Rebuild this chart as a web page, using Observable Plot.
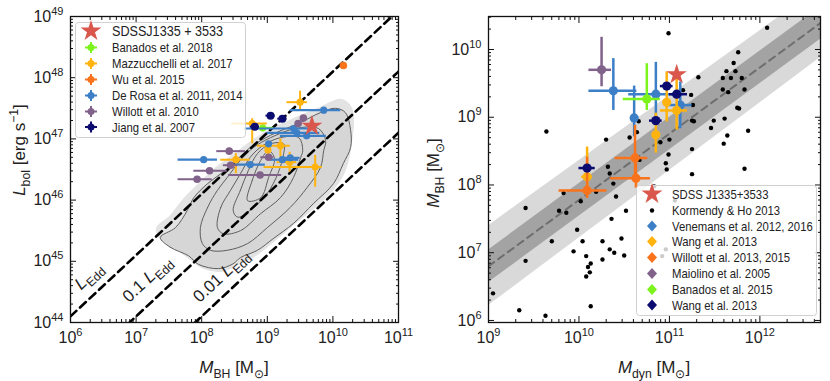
<!DOCTYPE html>
<html><head><meta charset="utf-8">
<script src="https://cdn.jsdelivr.net/npm/d3@7"></script>
<script src="https://cdn.jsdelivr.net/npm/@observablehq/plot@0.6"></script>
<style>
body{margin:0;background:#fff;}
#wrap{position:relative;width:830px;height:381px;overflow:hidden;background:#fff;}
#wrap svg{position:absolute;top:0;}
</style></head><body><div id="wrap"></div>
<script>
const FONT = "'Liberation Sans',Arial,sans-serif";

// ---------- tick decades ----------
const leftXDecades = [6, 7, 8, 9, 10, 11];
const leftYDecades = [44, 45, 46, 47, 48, 49];
const rightXDecades = [9, 10, 11, 12];
const rightYDecades = [6, 7, 8, 9, 10];

// ---------- LEFT PANEL (log10 values) ----------
// rows: [logM, logL, logM_lo, logM_hi, logL_lo, logL_hi]
const sdssLeft = [[9.68, 47.21]];
const banados2018 = [[8.93, 47.18, 8.82, 9.10, null, null]];
const mazzucchelli2017 = [
  [9.50, 47.60, 9.30, 9.61, 47.45, 47.78],
  [8.77, 47.25, 8.46, 9.00, 46.92, 47.33],
  [9.20, 46.89, 8.85, 9.35, 46.70, 47.00],
  [9.01, 46.82, null, null, 46.72, 46.95],
  [8.52, 46.66, 8.29, 8.74, 46.43, 46.76],
  [9.34, 46.62, 9.15, 9.45, 46.46, 46.78],
  [9.73, 46.54, 8.95, 9.84, 46.21, 46.73]
];
const wu2015 = [[10.16, 48.20, null, null, null, null]];
const deRosa = [
  [9.86, 47.47, 9.35, 10.12, null, null],
  [9.40, 47.17, 8.65, 9.75, null, null],
  [9.45, 47.10, 9.00, 9.80, null, null],
  [9.60, 47.05, 9.20, 9.90, null, null],
  [9.02, 46.92, null, null, null, null],
  [8.03, 46.66, 7.64, 8.24, null, null],
  [8.74, 46.58, 8.41, 8.97, null, null],
  [9.23, 46.66, 9.05, 9.48, null, null],
  [9.35, 46.69, 9.20, 9.50, null, null]
];
const willott2010 = [
  [9.55, 47.34, null, null, null, null],
  [9.47, 47.25, null, null, null, null],
  [8.42, 46.80, 8.23, 8.67, null, null],
  [9.02, 46.70, 8.90, 9.10, null, null],
  [8.44, 46.57, 8.33, 8.55, null, null],
  [8.12, 46.48, 7.88, 8.39, null, null],
  [8.89, 46.41, 8.41, 9.22, null, null],
  [7.93, 46.34, 7.64, 8.16, null, null]
];
const jiang2007 = [
  [9.05, 47.38, 8.98, 9.12, null, null],
  [9.23, 47.33, 9.16, 9.30, null, null],
  [8.81, 47.20, 8.74, 8.88, null, null]
];
// SDSS quasar cloud outline and density contours [logM, logL]
const sdssCloud = [[7.33,45.55],[7.52,45.72],[7.72,45.99],[7.98,46.27],[8.24,46.53],[8.59,46.81],[8.79,46.97],[9.05,47.14],[9.43,47.33],[9.81,47.50],[10.12,47.63],[10.27,47.50],[10.30,47.27],[10.27,46.97],[10.22,46.65],[10.12,46.37],[9.86,46.03],[9.40,45.62],[9.09,45.34],[8.79,45.09],[8.55,44.96],[8.29,44.85],[8.03,44.90],[7.78,45.09],[7.52,45.29],[7.37,45.39]];
const contour1 = [[7.37,45.39],[7.52,45.23],[7.80,45.09],[7.95,44.95],[8.26,44.88],[8.48,44.96],[8.59,45.06],[8.85,45.18],[9.09,45.37],[9.40,45.62],[9.70,45.94],[10.01,46.27],[10.16,46.60],[10.27,46.86],[10.27,47.14],[10.19,47.43],[10.04,47.50],[9.81,47.43],[9.51,47.27],[9.05,47.06],[8.74,46.86],[8.48,46.60],[8.29,46.43],[8.09,46.27],[7.88,46.04],[7.78,45.83],[7.60,45.55]];
const contour2 = [[7.98,45.55],[8.09,45.88],[8.24,46.16],[8.39,46.37],[8.59,46.65],[8.79,46.86],[9.05,47.02],[9.43,47.17],[9.78,47.17],[9.89,46.97],[9.86,46.81],[9.81,46.53],[9.61,46.21],[9.35,45.88],[9.00,45.55],[8.70,45.29],[8.39,45.18],[8.13,45.18],[8.01,45.29]];
const contour3 = [[8.24,45.55],[8.29,45.88],[8.44,46.16],[8.59,46.43],[8.74,46.70],[8.93,46.89],[9.20,47.02],[9.48,47.02],[9.54,46.81],[9.51,46.70],[9.40,46.37],[9.20,46.04],[8.90,45.78],[8.59,45.50],[8.33,45.45]];
const contour4 = [[8.48,45.83],[8.59,46.16],[8.71,46.48],[8.85,46.76],[9.05,46.92],[9.25,46.92],[9.25,46.76],[9.16,46.43],[9.00,46.11],[8.79,45.88],[8.55,45.72]];
const contour5 = [[8.70,45.99],[8.77,46.32],[8.90,46.65],[9.02,46.81],[9.11,46.68],[9.02,46.37],[8.90,46.04]];
// Eddington-ratio lines: endpoints [logM, logL]
const eddLines = [
  {name: "1", pts: [[6, 44.1], [11, 49.1]]},
  {name: "0.1", pts: [[6, 43.1], [11, 48.1]]},
  {name: "0.01", pts: [[6, 42.1], [11, 47.1]]}
];
const eddLabels = [
  {pre: "", at: [6.34, 44.69]},
  {pre: "0.1 ", at: [7.23, 44.64]},
  {pre: "0.01 ", at: [8.36, 44.69]}
];

// ---------- RIGHT PANEL (log10 values) ----------
// rows: [logMdyn, logMBH, x_lo, x_hi, y_lo, y_hi]
const sdssRight = [[11.08, 9.63]];
const kormendyHo = [[12.08,10.32],[10.99,10.24],[11.76,9.96],[11.71,9.80],[11.63,9.68],[11.73,9.68],[11.32,9.59],[11.59,9.58],[11.68,9.58],[11.80,9.58],[11.59,9.41],[11.65,9.37],[11.83,9.41],[11.15,9.40],[11.24,9.33],[11.26,9.18],[11.75,9.14],[11.77,9.13],[11.25,8.95],[11.27,8.94],[11.49,8.95],[11.61,8.98],[11.46,8.84],[11.87,8.80],[11.64,8.73],[11.60,8.61],[9.64,8.79],[10.30,8.67],[10.56,8.70],[10.64,8.78],[10.66,8.94],[10.90,8.63],[11.00,8.67],[11.25,8.53],[10.99,8.45],[10.96,8.32],[10.97,8.23],[11.25,8.16],[11.83,8.24],[10.32,8.27],[10.34,8.17],[10.67,8.37],[10.38,8.02],[10.41,7.83],[9.83,7.88],[10.19,7.90],[10.02,7.76],[9.41,7.66],[9.78,7.62],[9.86,7.59],[10.36,7.50],[10.52,7.62],[9.98,7.34],[9.70,7.17],[10.04,7.17],[10.26,7.17],[10.47,7.21],[9.94,7.02],[10.34,7.05],[10.39,7.00],[9.41,6.88],[10.08,6.95],[10.26,6.90],[10.50,6.96],[10.13,6.84],[10.10,6.79],[10.12,6.71],[10.08,6.65],[9.05,6.40],[9.34,6.15],[9.63,6.07],[10.13,6.21],[10.83,7.98],[11.06,7.77],[10.96,7.05],[10.92,6.95]];
const venemans = [
  [10.38, 9.39, 10.11, 10.64, 9.10, 9.865],
  [10.85, 9.34, 10.55, 11.15, 8.98, 9.81],
  [10.61, 8.99, null, null, 8.71, 9.46],
  [11.12, 9.18, 10.96, 11.25, 8.83, 9.52]
];
const wang2013a = [
  [10.97, 9.22, null, null, 8.93, 9.67],
  [11.08, 9.10, 10.90, 11.20, 8.81, 9.67],
  [10.85, 8.74, null, null, 8.47, 9.06],
  [10.09, 8.12, 10.03, 10.15, 7.87, 8.56]
];
const willott2013 = [
  [10.62, 8.40, 10.40, 10.76, 8.12, 8.88],
  [10.63, 8.10, 10.35, 10.79, 7.95, 8.40],
  [10.09, 7.92, 9.78, 10.31, 7.80, 8.41]
];
const maiolino2005 = [[10.25, 9.70, 10.11, 10.36, 9.45, 10.18]];
const banados2015 = [[10.75, 9.27, 10.49, 10.90, 9.10, 9.79]];
const wang2013b = [
  [10.97, 9.46, 10.90, 11.04, null, null],
  [11.08, 9.34, 11.00, 11.20, null, null],
  [10.85, 8.95, 10.78, 10.92, null, null],
  [10.09, 8.25, 10.00, 10.18, null, null]
];
// local relation with scatter bands [logMdyn] -> logMBH
const relMdyn = [9.0, 12.67];
const relMbh = [6.80, 10.39];
const darkLo = [6.56, 10.15], darkHi = [7.04, 10.63];
const lightLo = [6.22, 9.88], lightHi = [7.40, 10.92];

// ---------- colours ----------
const C = {star: "#d9574c", green: "#7df31c", yellow: "#ffb30f", orange: "#f9731c",
           blue: "#3d7fc6", purple: "#80628a", navy: "#0b0b70"};

// ---------- helpers ----------
const P = v => 10 ** v;
const minorTicks = (decs) => { const out = []; for (const d of decs.slice(0, -1)) for (let k = 2; k <= 9; k++) out.push(k * P(d)); return out; };
const expFmt = d => "10^" + Math.round(Math.log10(d));
function prep(rows) {
  return rows.map(([x, y, xlo, xhi, ylo, yhi]) => ({x: P(x), y: P(y),
    xlo: xlo == null ? null : P(xlo), xhi: xhi == null ? null : P(xhi),
    ylo: ylo == null ? null : P(ylo), yhi: yhi == null ? null : P(yhi)}));
}
function seriesMarks(rows, color, r, sw) {
  const d = prep(rows);
  return [
    Plot.ruleY(d.filter(e => e.xlo != null), {y: "y", x1: "xlo", x2: "xhi", stroke: color, strokeWidth: sw}),
    Plot.ruleX(d.filter(e => e.ylo != null), {x: "x", y1: "ylo", y2: "yhi", stroke: color, strokeWidth: sw}),
    Plot.dot(d, {x: "x", y: "y", r, fill: color, stroke: "none"})
  ];
}
const toXY = arr => arr.map(([a, b]) => ({x: P(a), y: P(b)}));
function frameAxes(xMaj, xMin, yMaj, yMin) {
  const tk = {stroke: "#111", fill: "none", label: null, strokeWidth: 1};
  return [
    Plot.axisX({...tk, ticks: xMaj, anchor: "bottom", tickSize: -6}),
    Plot.axisX({...tk, ticks: xMaj, anchor: "top", tickSize: -6}),
    Plot.axisX({...tk, ticks: xMin, anchor: "bottom", tickSize: -3}),
    Plot.axisX({...tk, ticks: xMin, anchor: "top", tickSize: -3}),
    Plot.axisY({...tk, ticks: yMaj, anchor: "left", tickSize: -6}),
    Plot.axisY({...tk, ticks: yMaj, anchor: "right", tickSize: -6}),
    Plot.axisY({...tk, ticks: yMin, anchor: "left", tickSize: -3}),
    Plot.axisY({...tk, ticks: yMin, anchor: "right", tickSize: -3}),
    Plot.axisX({ticks: xMaj, anchor: "bottom", tickSize: 0, tickPadding: 9, tickFormat: expFmt, label: null, fill: "#222", fontSize: 16}),
    Plot.axisY({ticks: yMaj, anchor: "left", tickSize: 0, tickPadding: 7, tickFormat: expFmt, label: null, fill: "#222", fontSize: 16}),
    Plot.frame({stroke: "#111", strokeWidth: 1.3})
  ];
}
function supTicks(svg) {
  d3.select(svg).selectAll("text").each(function () {
    const m = this.textContent.match(/^10\^(-?\d+)$/);
    if (!m) return;
    const t = d3.select(this);
    t.text(null);
    t.append("tspan").text("10");
    t.append("tspan").attr("font-size", 11).attr("dy", -7).text(m[1]);
  });
}
function richText(parent, x, y, segs, {size = 16, rotate = 0, anchor = "middle"} = {}) {
  const t = parent.append("text").attr("transform", `translate(${x},${y}) rotate(${rotate})`)
    .attr("text-anchor", anchor).attr("font-size", size).attr("font-family", FONT).attr("fill", "#222");
  let shift = 0;
  for (const s of segs) {
    const ts = t.append("tspan").text(s.t);
    let target = 0, fs = size;
    if (s.sub) { target = size * 0.28; fs = size * 0.72; }
    if (s.sup) { target = -size * 0.42; fs = size * 0.72; }
    ts.attr("font-size", fs);
    if (s.i) ts.attr("font-style", "italic");
    if (target !== shift) { ts.attr("dy", target - shift); shift = target; }
  }
  return t;
}
function starPath(cx, cy, R) {
  const r = R * 0.382, pts = [];
  for (let i = 0; i < 10; i++) { const a = -Math.PI / 2 + i * Math.PI / 5, rr = i % 2 ? r : R; pts.push([cx + rr * Math.cos(a), cy + rr * Math.sin(a)]); }
  return "M" + pts.map(p => p.join(",")).join("L") + "Z";
}
// legend labels: slightly condensed, like the reference's narrow glyphs
function legendText(g, x, y, str, size) {
  return g.append("text").attr("transform", `translate(${x},${y}) scale(0.87,1)`).attr("font-size", size)
    .attr("font-family", FONT).attr("text-anchor", "start").attr("fill", "#222").text(str);
}

const wrap = document.getElementById("wrap");

// ================= LEFT PLOT =================
const left = Plot.plot({
  width: 415, height: 381, marginLeft: 70, marginRight: 17, marginTop: 16, marginBottom: 59,
  x: {type: "log", domain: [P(6), P(11)], axis: null, label: null},
  y: {type: "log", domain: [P(44), P(49)], axis: null, label: null},
  style: {fontFamily: FONT, fontSize: "16px", color: "#222", background: "transparent"},
  marks: [
    Plot.line(toXY(sdssCloud), {x: "x", y: "y", curve: "catmull-rom-closed", fill: "#e3e3e3", stroke: "#e3e3e3", strokeWidth: 3}),
    Plot.line(toXY(contour1), {x: "x", y: "y", curve: "catmull-rom-closed", fill: "#d6d6d6", stroke: "none"}),
    ...[contour1, contour2, contour3, contour4, contour5].map(c =>
      Plot.line(toXY(c), {x: "x", y: "y", curve: "catmull-rom-closed", stroke: "#5e5e5e", strokeWidth: 1})),
    ...eddLines.map(l => Plot.line(toXY(l.pts), {x: "x", y: "y", stroke: "#000", strokeWidth: 2.6, strokeDasharray: "8,5", clip: true})),
    ...seriesMarks(banados2018, C.green, 3.6, 2),
    ...seriesMarks(mazzucchelli2017, C.yellow, 3.6, 2),
    ...seriesMarks(wu2015, C.orange, 3.8, 2),
    ...seriesMarks(deRosa, C.blue, 3.6, 2.2),
    ...seriesMarks(willott2010, C.purple, 3.8, 2),
    ...seriesMarks(jiang2007, C.navy, 4, 2),
    Plot.dot(prep(sdssLeft), {x: "x", y: "y", symbol: "star", r: 6.6, fill: C.star, stroke: "none"}),
    ...frameAxes(leftXDecades.map(P), minorTicks(leftXDecades), leftYDecades.map(P), minorTicks(leftYDecades))
  ]
});
left.style.left = "0px";
wrap.appendChild(left);
supTicks(left);
{
  const s = d3.select(left);
  const xs = left.scale("x"), ys = left.scale("y");
  for (const lab of eddLabels) {
    const x = xs.apply(P(lab.at[0])), y = ys.apply(P(lab.at[1]));
    const segs = [];
    if (lab.pre) segs.push({t: lab.pre});
    segs.push({t: "L", i: true}, {t: "Edd", sub: true});
    richText(s, x, y, segs, {size: 17, rotate: -43});
  }
  // axis titles
  richText(s, 25, 150, [{t: "L", i: true}, {t: "bol", sub: true}, {t: " [erg s"}, {t: "−1", sup: true}, {t: "]"}], {size: 17, rotate: -90});
  richText(s, 234, 373, [{t: "M", i: true}, {t: "BH", sub: true}, {t: " [M"}, {t: "⊙", sub: true}, {t: "]"}], {size: 17});
  // legend
  const g = s.append("g");
  g.append("rect").attr("x", 75.5).attr("y", 22.5).attr("width", 170).attr("height", 115).attr("rx", 3)
    .attr("fill", "#fff").attr("fill-opacity", 0.8).attr("stroke", "#d0d0d0");
  g.append("path").attr("d", starPath(91, 31, 11)).attr("fill", C.star);
  legendText(g, 112, 36, "SDSSJ1335 + 3533", 14.5);
  const items = [["Banados et al. 2018", C.green], ["Mazzucchelli et al. 2017", C.yellow], ["Wu et al. 2015", C.orange],
    ["De Rosa et al. 2011, 2014", C.blue], ["Willott et al. 2010", C.purple], ["Jiang et al. 2007", C.navy]];
  const ly = [47.5, 63.5, 79.5, 95.5, 111.5, 127];
  items.forEach(([name, col], i) => {
    const y = ly[i];
    g.append("line").attr("x1", 85).attr("x2", 97).attr("y1", y).attr("y2", y).attr("stroke", col).attr("stroke-width", 2);
    g.append("line").attr("x1", 91).attr("x2", 91).attr("y1", y - 5.5).attr("y2", y + 5.5).attr("stroke", col).attr("stroke-width", 2);
    g.append("circle").attr("cx", 91).attr("cy", y).attr("r", 3.5).attr("fill", col);
    legendText(g, 112, y + 4.5, name, 13);
  });
}

// ================= RIGHT PLOT =================
const relRows = relMdyn.map((x, i) => ({x: P(x), y: P(relMbh[i]), dlo: P(darkLo[i]), dhi: P(darkHi[i]), llo: P(lightLo[i]), lhi: P(lightHi[i])}));
const right = Plot.plot({
  width: 415, height: 381, marginLeft: 73, marginRight: 10, marginTop: 16, marginBottom: 59,
  x: {type: "log", domain: [P(9), P(12.67)], axis: null, label: null},
  y: {type: "log", domain: [P(5.97), P(10.487)], axis: null, label: null},
  style: {fontFamily: FONT, fontSize: "16px", color: "#222", background: "transparent"},
  marks: [
    Plot.areaY(relRows, {x: "x", y1: "llo", y2: "lhi", fill: "#d9d9d9", clip: true}),
    Plot.areaY(relRows, {x: "x", y1: "dlo", y2: "dhi", fill: "#a3a3a3", clip: true}),
    Plot.line(relRows, {x: "x", y: "y", stroke: "#6e6e6e", strokeWidth: 2, strokeDasharray: "7,5", clip: true}),
    Plot.dot(toXY(kormendyHo), {x: "x", y: "y", r: 2.2, fill: "#000", stroke: "none"}),
    ...seriesMarks(venemans, C.blue, 4.6, 2.5),
    ...seriesMarks(wang2013a, C.yellow, 4.6, 2.5),
    ...seriesMarks(willott2013, C.orange, 4.6, 2.5),
    ...seriesMarks(maiolino2005, C.purple, 4.6, 2.5),
    ...seriesMarks(banados2015, C.green, 4.6, 2.5),
    ...seriesMarks(wang2013b, C.navy, 4.6, 2.5),
    Plot.dot(prep(sdssRight), {x: "x", y: "y", symbol: "star", r: 6.4, fill: C.star, stroke: "none"}),
    ...frameAxes(rightXDecades.map(P), minorTicks([9, 10, 11, 12, 13]).filter(v => v <= P(12.67)),
                 rightYDecades.map(P), [...minorTicks([5, 6, 7, 8, 9, 10, 11])].filter(v => v >= P(5.97) && v <= P(10.487)))
  ]
});
right.style.left = "415px";
wrap.appendChild(right);
supTicks(right);
{
  const s = d3.select(right);
  richText(s, 24, 173, [{t: "M", i: true}, {t: "BH", sub: true}, {t: " [M"}, {t: "⊙", sub: true}, {t: "]"}], {size: 17, rotate: -90});
  richText(s, 239, 373, [{t: "M", i: true}, {t: "dyn", sub: true}, {t: " [M"}, {t: "⊙", sub: true}, {t: "]"}], {size: 17});
  const g = s.append("g");
  g.append("rect").attr("x", 221.5).attr("y", 185.5).attr("width", 180).attr("height", 130).attr("rx", 3)
    .attr("fill", "#fff").attr("fill-opacity", 0.8).attr("stroke", "#d0d0d0");
  const mx = 237, tx = 257;
  const ly = [194, 210.5, 226, 241.5, 257.5, 273.5, 289.5, 305];
  g.append("path").attr("d", starPath(mx, ly[0], 11)).attr("fill", C.star);
  g.append("circle").attr("cx", mx).attr("cy", ly[1]).attr("r", 2.2).attr("fill", "#000");
  const names = ["SDSS J1335+3533", "Kormendy & Ho 2013", "Venemans et al. 2012, 2016", "Wang et al. 2013",
    "Willott et al. 2013, 2015", "Maiolino et al. 2005", "Banados et al. 2015", "Wang et al. 2013"];
  const cols = [null, null, C.blue, C.yellow, C.orange, C.purple, C.green, C.navy];
  names.forEach((n, i) => {
    const y = ly[i];
    if (cols[i]) g.append("path").attr("d", `M${mx},${y - 5.5}L${mx + 5},${y}L${mx},${y + 5.5}L${mx - 5},${y}Z`).attr("fill", cols[i]);
    legendText(g, tx, y + 4.5, n, 13);
  });
}
</script></body></html>
